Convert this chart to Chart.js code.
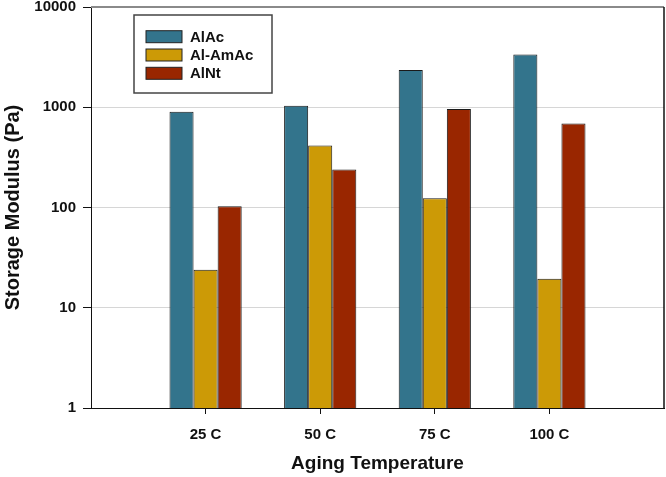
<!DOCTYPE html>
<html>
<head>
<meta charset="utf-8">
<title>Storage Modulus vs Aging Temperature</title>
<script src="https://cdn.jsdelivr.net/npm/chart.js@4"></script>
<style>
  html, body { margin: 0; padding: 0; background: #fff; }
  .chart-wrap { width: 666px; height: 477px; position: relative; }
</style>
</head>
<body>
<div class="chart-wrap"><canvas id="graph-0"></canvas></div>
<script>
// empty slots at both ends keep the axis running 0..5 like the original
const categories = ['', '25 C', '50 C', '75 C', '100 C', ''];
const alAc = [null, 900, 1035, 2350, 3350, null];
const alAmAc = [null, 24, 415, 124, 19.5, null];
const alNt = [null, 103, 240, 960, 690, null];
const yTicks = [1, 10, 100, 1000, 10000];

const FONT = '"Liberation Sans", Arial, sans-serif';

/*
* =============================================
* PLUGINS :: start
* ============================================= */
const frameBox = {
  id: 'frameBox',
  afterDatasetsDraw(chart) {
    const {ctx, chartArea: a} = chart;
    ctx.save();
    // top edge, grey
    ctx.strokeStyle = '#8a8a8a';
    ctx.lineWidth = 2;
    ctx.beginPath();
    ctx.moveTo(a.left, a.top);
    ctx.lineTo(a.right, a.top);
    ctx.stroke();
    // right edge, dark
    ctx.strokeStyle = '#111';
    ctx.lineWidth = 1.5;
    ctx.beginPath();
    ctx.moveTo(a.right, a.top);
    ctx.lineTo(a.right, a.bottom);
    ctx.stroke();
    ctx.restore();
  }
};

const boxLegend = {
  id: 'boxLegend',
  afterDraw(chart) {
    const ctx = chart.ctx;
    const box = {x: 134, y: 15, w: 138, h: 78};
    ctx.save();
    ctx.fillStyle = '#fff';
    ctx.fillRect(box.x, box.y, box.w, box.h);
    ctx.strokeStyle = '#444';
    ctx.lineWidth = 1.5;
    ctx.strokeRect(box.x, box.y, box.w, box.h);

    ctx.font = 'bold 15px ' + FONT;
    ctx.textBaseline = 'middle';
    ctx.textAlign = 'left';
    chart.data.datasets.forEach((ds, i) => {
      const cy = 36.7 + i * 18.3;
      ctx.fillStyle = ds.backgroundColor;
      ctx.fillRect(146, cy - 6, 36, 12);
      ctx.strokeStyle = '#222';
      ctx.lineWidth = 1;
      ctx.strokeRect(146, cy - 6, 36, 12);
      ctx.fillStyle = '#111';
      ctx.fillText(ds.label, 190, cy + 1);
    });
    ctx.restore();
  }
};
/*
* PLUGINS :: end
* ============================================= */

const initGraph = () => {
  const graph0 = document.getElementById('graph-0');

  const barStyle = (label, data, color) => ({
    label: label,
    data: data,
    backgroundColor: color,
    borderColor: '#1a1a1a',
    borderWidth: 1,
    categoryPercentage: 0.63,
    barPercentage: 1.0
  });

  new Chart(graph0, {
    type: 'bar',
    data: {
      labels: categories,
      datasets: [
        barStyle('AlAc', alAc, '#33748c'),
        barStyle('Al-AmAc', alAmAc, '#cc9a06'),
        barStyle('AlNt', alNt, '#992600')
      ]
    },
    options: {
      responsive: true,
      maintainAspectRatio: false,
      animation: false,
      layout: { padding: { top: 7, right: 2, left: 0, bottom: 0 } },
      plugins: {
        legend: { display: false },
        tooltip: { enabled: false }
      },
      scales: {
        x: {
          type: 'category',
          offset: false,
          grid: {
            offset: false,
            drawOnChartArea: false,
            tickLength: 6,
            tickColor: (c) => (c.index === 0 || c.index === categories.length - 1) ? 'rgba(0,0,0,0)' : '#111'
          },
          border: { color: '#111', width: 1 },
          ticks: {
            autoSkip: false,
            maxRotation: 0,
            padding: 12,
            color: '#111',
            font: { family: FONT, size: 15, weight: 'bold' }
          },
          title: {
            display: true,
            text: 'Aging Temperature',
            color: '#111',
            padding: { top: 0, bottom: 2 },
            font: { family: FONT, size: 19, weight: 'bold' }
          },
          afterFit: (scale) => {
            scale.height = 69;
            scale.paddingLeft = 0;
            scale.paddingRight = 0;
          }
        },
        y: {
          type: 'logarithmic',
          min: 1,
          max: 10000,
          grid: {
            color: (c) => (c.tick && (c.tick.value === 1 || c.tick.value === 10000)) ? 'rgba(0,0,0,0)' : '#d6d6d6',
            tickColor: '#111',
            tickLength: 8
          },
          border: { color: '#111', width: 1 },
          ticks: {
            padding: 7,
            color: '#111',
            font: { family: FONT, size: 15, weight: 'bold' },
            callback: (v) => String(v)
          },
          afterBuildTicks: (scale) => {
            scale.ticks = yTicks.map((v) => ({ value: v }));
          },
          title: {
            display: true,
            text: 'Storage Modulus (Pa)',
            color: '#111',
            padding: { top: 1, bottom: 0 },
            font: { family: FONT, size: 20, weight: 'bold' }
          },
          afterFit: (scale) => {
            scale.width = 91;
            scale.paddingTop = 0;
            scale.paddingBottom = 0;
          }
        }
      }
    },
    plugins: [frameBox, boxLegend]
  });
};

initGraph();
</script>
</body>
</html>
